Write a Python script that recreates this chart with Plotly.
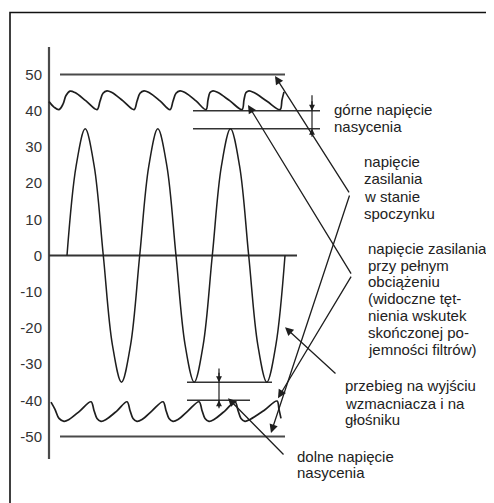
import plotly.graph_objects as go

# ---------------- data ----------------
tick_values = [50, 40, 30, 20, 10, 0, -10, -20, -30, -40, -50]
tick_labels = ["50", "40", "30", "20", "10", "0", "-10", "-20", "-30", "-40", "-50"]

# amplifier output (sine), 8 samples per period
sine_x = [67.0, 76.1, 85.2, 94.2, 103.3, 112.4, 121.5, 130.6, 139.7, 148.8, 157.8, 166.9,
          176.0, 185.1, 194.2, 203.2, 212.3, 221.4, 230.5, 239.6, 248.7, 257.8, 266.8, 275.9, 285.0]
sine_y = [0, 24.7, 35, 24.7, 0, -24.7, -35, -24.7, 0, 24.7, 35, 24.7,
          0, -24.7, -35, -24.7, 0, 24.7, 35, 24.7, 0, -24.7, -35, -24.7, 0]

# upper supply rail with ripple (full load)
rip_top_x = [49, 54, 59, 63, 66, 70, 75, 86, 97, 100, 103, 107, 112, 123, 134, 137, 140, 144, 149, 160,
             170, 173, 176, 180, 185, 196, 206, 208, 210, 213, 218, 230, 242, 244, 246, 249, 254, 267, 280, 282, 284]
rip_top_y = [42.5, 41.0, 40.3, 41.8, 44.2, 45.4, 45.0, 42.7, 40.3, 42.6, 44.8, 45.5, 45.0, 42.7, 40.3, 42.6, 44.8, 45.5, 45.0, 42.7,
             40.3, 42.6, 44.8, 45.5, 45.0, 42.7, 40.3, 43.0, 45.0, 45.5, 45.0, 42.7, 40.3, 43.0, 45.0, 45.5, 45.0, 42.6, 40.3, 43.0, 45.2]

# lower supply rail with ripple (full load)
rip_bot_x = [51, 55, 59, 64, 69, 80, 91, 94, 97, 101, 106, 117, 127, 130, 133, 137, 142, 152, 163, 166, 169, 173, 178,
             188, 199, 202, 205, 209, 214, 225, 235, 238, 241, 245, 250, 264, 277, 279, 281]
rip_bot_y = [-40.5, -42.5, -45.0, -45.8, -45.3, -42.9, -40.4, -42.8, -45.0, -45.8, -45.3, -42.9, -40.4, -42.8, -45.0, -45.8,
             -45.3, -42.9, -40.4, -42.8, -45.0, -45.8, -45.3, -42.9, -40.4, -42.8, -45.0, -45.8, -45.3, -42.9, -40.4, -42.8,
             -45.0, -45.8, -45.3, -42.8, -40.2, -42.5, -45.0]

# horizontal reference levels
rail_values = [50, -50]            # supply at rest
rail_x_start = [60, 60]
rail_x_end = [285, 285]
sat_values = [40, 35, -35, -40]    # saturation reference lines
sat_x_start = [193, 193, 187, 187]
sat_x_end = [320, 320, 272, 250]

axis_y_extent = [57.6, -56.2]
zero_x_extent = [49, 297]

label_gorne = ["górne napięcie", "nasycenia"]
label_spoczynek = ["napięcie", "zasilania", "w stanie", "spoczynku"]
label_obciazenie = ["napięcie zasilania", "przy pełnym", "obciążeniu", "(widoczne tęt-",
                    "nienia wskutek", "skończonej po-", "jemności filtrów)"]
label_przebieg = ["przebieg na wyjściu", "wzmacniacza i na", "głośniku"]
label_dolne = ["dolne napięcie", "nasycenia"]

# ---------------- figure ----------------
INK = "#1e1e1e"
GRAY = "#4a4a4a"
FONT = "Liberation Sans, Arial, Helvetica, sans-serif"

# the page body has an 8px margin: the figure covers window pixels 8..494 / 8..503
OFF = 8
W, H = 494 - OFF, 503 - OFF

PX_PER_UNIT = 3.62
ZERO_PX = 255.5
y_top = (ZERO_PX - OFF) / PX_PER_UNIT
y_bot = (ZERO_PX - 503) / PX_PER_UNIT

fig = go.Figure()


def add_line(x, y, width, color, shape="linear"):
    fig.add_trace(go.Scatter(x=x, y=y, mode="lines", cliponaxis=False,
                             line=dict(color=color, width=width, shape=shape, smoothing=1),
                             hoverinfo="skip", showlegend=False))


# outer frame (left, top, right sides)
frame_top = (ZERO_PX - 12.5) / PX_PER_UNIT
add_line([10, 10, 491, 491], [y_bot - 2, frame_top, frame_top, y_bot - 2], 1.6, "#111111")

# y axis line and zero line
add_line([49, 49], axis_y_extent, 2.2, GRAY)
add_line(zero_x_extent, [0, 0], 1.8, "#333333")

# rails at rest
for v, xs, xe in zip(rail_values, rail_x_start, rail_x_end):
    add_line([xs, xe], [v, v], 2.0, GRAY)

# saturation reference lines
for v, xs, xe in zip(sat_values, sat_x_start, sat_x_end):
    add_line([xs, xe], [v, v], 1.6, "#333333")

# ripple rails
add_line(rip_top_x, rip_top_y, 1.7, INK, "spline")
add_line(rip_bot_x, rip_bot_y, 1.7, INK, "spline")

# output sine
add_line(sine_x, sine_y, 1.5, INK, "spline")

# dimension lines
add_line([312, 312], [44.3, 32.8], 1.2, INK)
add_line([219, 219], [-31.2, -42.2], 1.2, INK)

annotations = []


def arrow(tx, ty, hx, hy, size=1.0):
    annotations.append(dict(x=hx, y=hy, ax=tx, ay=ty, xref="x", yref="y", axref="x", ayref="y",
                            text="", showarrow=True, arrowhead=2, arrowsize=size, arrowwidth=1.3,
                            arrowcolor=INK, standoff=0))


# dimension arrowheads
arrow(312, 43.0, 312, 40.0, 0.9)
arrow(312, 32.9, 312, 35.0, 0.9)
arrow(219, -32.0, 219, -35.0, 0.9)
arrow(219, -42.2, 219, -40.0, 0.9)

# leader lines
arrow(350, 17.0, 275, 49.6, 1.3)
arrow(350, 17.0, 271, -49.0, 1.3)
arrow(352, -5.4, 248, 41.6, 1.3)
arrow(352, -5.4, 278, -39.4, 1.3)
arrow(337, -33.0, 285, -19.8, 1.3)
arrow(285, -55.4, 228, -39.4, 1.3)


def text_block(lines, x, y_values):
    for line, yv in zip(lines, y_values):
        annotations.append(dict(x=x, y=yv, xref="x", yref="y", text=line, showarrow=False,
                                xanchor="left", yanchor="middle",
                                font=dict(family=FONT, size=15, color="#222222")))


text_block(label_gorne, 332, [40.2, 35.6])
text_block(label_spoczynek, 362, [25.9, 21.3, 16.2, 11.7])
text_block(label_obciazenie, 366, [2.0, -2.65, -7.3, -11.95, -16.6, -21.25, -25.9])
text_block(label_przebieg, 343, [-36.0, -40.8, -45.4])
text_block(label_dolne, 295, [-55.6, -60.0])

fig.update_layout(
    width=W, height=H,
    margin=dict(l=0, r=0, t=0, b=0),
    paper_bgcolor="white", plot_bgcolor="white",
    showlegend=False,
    annotations=annotations,
    xaxis=dict(range=[OFF, 494], visible=False, fixedrange=True),
    yaxis=dict(range=[y_bot, y_top], anchor="free", position=(49 - OFF) / W,
               tickvals=tick_values, ticktext=tick_labels, ticks="",
               ticklabelstandoff=7, showgrid=False, zeroline=False, showline=False,
               tickfont=dict(family=FONT, size=15, color="#333333"), fixedrange=True),
    font=dict(family=FONT),
)

fig.write_html("out.html")
